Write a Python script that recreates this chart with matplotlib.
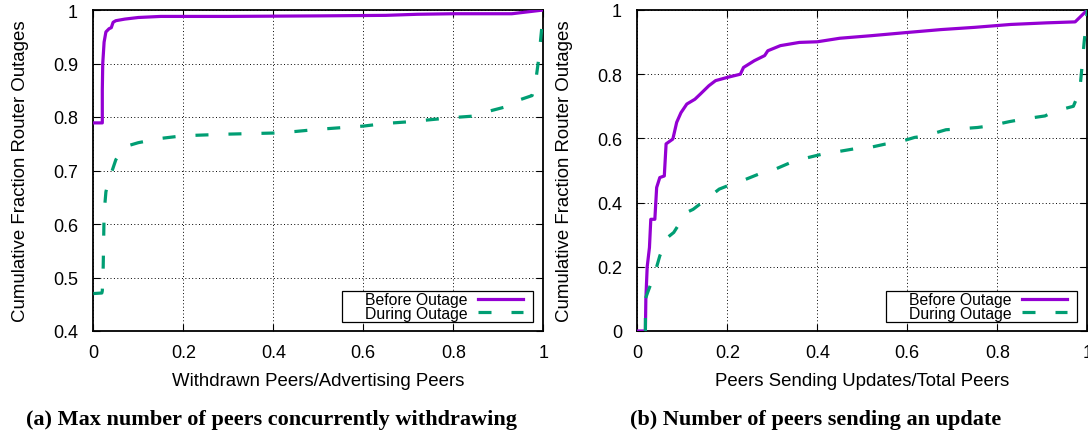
import matplotlib
matplotlib.use("Agg")
import matplotlib.pyplot as plt
from matplotlib.patches import Rectangle

# ---------------- data ----------------
# (a) Max number of peers concurrently withdrawing
a_before_x = [0, 0.02, 0.02, 0.021, 0.024, 0.028, 0.035, 0.04, 0.044, 0.05, 0.07, 0.1, 0.15,
              0.3, 0.5, 0.65, 0.72, 0.8, 0.93, 1.0]
a_before_y = [0.789, 0.789, 0.85, 0.90, 0.94, 0.959, 0.965, 0.967, 0.977, 0.98, 0.983, 0.986, 0.988,
              0.988, 0.989, 0.99, 0.992, 0.993, 0.993, 1.0]
a_during_x = [0, 0.019, 0.02, 0.022, 0.024, 0.028, 0.035, 0.042, 0.05, 0.065, 0.08, 0.1, 0.15, 0.2,
              0.3, 0.4, 0.45, 0.5, 0.55, 0.6, 0.65, 0.7, 0.75, 0.8, 0.85, 0.88, 0.93, 0.94, 0.975,
              0.982, 0.99, 0.997, 1.0]
a_during_y = [0.470, 0.471, 0.475, 0.52, 0.62, 0.66, 0.685, 0.70, 0.72, 0.74, 0.747, 0.752, 0.76, 0.765,
              0.768, 0.770, 0.773, 0.777, 0.780, 0.783, 0.788, 0.791, 0.795, 0.799, 0.802, 0.811, 0.822,
              0.83, 0.84, 0.86, 0.91, 0.97, 1.0]

# (b) Number of peers sending an update
b_before_x = [0, 0.018, 0.019, 0.022, 0.027, 0.03, 0.039, 0.043, 0.05, 0.06, 0.064, 0.079, 0.0875,
              0.097, 0.11, 0.128, 0.14, 0.159, 0.174, 0.2, 0.229, 0.236, 0.26, 0.283, 0.29, 0.318,
              0.36, 0.4, 0.45, 0.52, 0.6, 0.675, 0.75, 0.83, 0.91, 0.973, 1.0]
b_before_y = [0, 0, 0.1, 0.2, 0.26, 0.348, 0.348, 0.447, 0.478, 0.483, 0.583, 0.598, 0.65,
              0.68, 0.707, 0.722, 0.738, 0.764, 0.78, 0.79, 0.80, 0.821, 0.842, 0.858, 0.873, 0.889,
              0.899, 0.901, 0.912, 0.92, 0.93, 0.939, 0.946, 0.955, 0.96, 0.963, 1.0]
b_during_x = [0.018, 0.018, 0.023, 0.031, 0.043, 0.05, 0.066, 0.081, 0.109, 0.124, 0.163, 0.182,
              0.209, 0.233, 0.279, 0.298, 0.341, 0.364, 0.411, 0.434, 0.48, 0.508, 0.55, 0.578,
              0.616, 0.64, 0.686, 0.709, 0.756, 0.783, 0.826, 0.857, 0.906, 0.928, 0.969, 0.975,
              0.984, 0.988, 0.993, 0.997, 1.0]
b_during_y = [0, 0.1, 0.12, 0.15, 0.2, 0.234, 0.29, 0.307, 0.369, 0.379, 0.421, 0.442,
              0.457, 0.468, 0.494, 0.499, 0.525, 0.535, 0.551, 0.556, 0.567, 0.569, 0.582, 0.587,
              0.603, 0.608, 0.627, 0.629, 0.634, 0.639, 0.652, 0.66, 0.67, 0.685, 0.70, 0.72,
              0.76, 0.82, 0.90, 0.95, 1.0]

a_xticks = [0, 0.2, 0.4, 0.6, 0.8, 1]
a_xticklabels = ["0", "0.2", "0.4", "0.6", "0.8", "1"]
a_yticks = [0.4, 0.5, 0.6, 0.7, 0.8, 0.9, 1.0]
a_yticklabels = ["0.4", "0.5", "0.6", "0.7", "0.8", "0.9", "1"]
b_xticks = [0, 0.2, 0.4, 0.6, 0.8, 1]
b_xticklabels = ["0", "0.2", "0.4", "0.6", "0.8", "1"]
b_yticks = [0, 0.2, 0.4, 0.6, 0.8, 1.0]
b_yticklabels = ["0", "0.2", "0.4", "0.6", "0.8", "1"]

series_labels = ["Before Outage", "During Outage"]
ylabel = "Cumulative Fraction Router Outages"
a_xlabel = "Withdrawn Peers/Advertising Peers"
b_xlabel = "Peers Sending Updates/Total Peers"
a_caption = "(a) Max number of peers concurrently withdrawing"
b_caption = "(b) Number of peers sending an update"

# ---------------- style ----------------
PURPLE = "#9400d3"
GREEN = "#009e73"
LW = 2.3
SANS = ["Liberation Sans", "DejaVu Sans"]
plt.rcParams["font.family"] = SANS

W, H = 1088, 435
fig = plt.figure(figsize=(W / 100, H / 100), dpi=100)

def px_axes(l, r, t, b):
    return fig.add_axes([l / W, 1 - b / H, (r - l) / W, (b - t) / H])

ax_a = px_axes(93.3, 543.3, 11, 332)
ax_b = px_axes(637.3, 1087.3, 11, 332)

def style(ax, xticks, xtl, yticks, ytl, ylim, xlabel):
    ax.set_xlim(0, 1)
    ax.set_ylim(*ylim)
    ax.set_xticks(xticks)
    ax.set_xticklabels(xtl)
    ax.set_yticks(yticks)
    ax.set_yticklabels(ytl)
    ax.tick_params(direction="in", length=5, width=0.8, labelsize=13,
                   top=True, right=True, colors="black")
    ax.tick_params(axis="x", pad=9)
    ax.tick_params(axis="y", pad=11)
    ax.grid(True, color="black", linestyle=(0, (1, 2.5)), linewidth=0.7)
    for s in ax.spines.values():
        s.set_linewidth(1.3)
        s.set_color("black")
    ax.set_xlabel(xlabel, fontsize=13.4, labelpad=8)
    ax.set_ylabel(ylabel, fontsize=13.4, labelpad=17)

def draw(ax, bx, by, dx, dy, ylim):
    l1, = ax.plot(bx, by, color=PURPLE, lw=LW, label=series_labels[0], zorder=3)
    l2, = ax.plot(dx, dy, color=GREEN, lw=LW, label=series_labels[1], zorder=3)
    l2.set_dashes([4.07, 6.26])
    # gnuplot-style key box
    x0 = (342 - 93.3) / 450
    x1 = (533 - 93.3) / 450
    y0 = (332 - 323) / 321
    y1 = (332 - 292) / 321
    ax.add_patch(Rectangle((x0, y0), x1 - x0, y1 - y0, transform=ax.transAxes,
                           facecolor="white", edgecolor="black", lw=0.9, zorder=4))
    leg = ax.legend(loc="center right", bbox_to_anchor=(0.955, (332 - 307.5) / 321),
                    markerfirst=False, frameon=False, fontsize=11.3,
                    handlelength=2.9, borderpad=0, labelspacing=-0.1, handletextpad=0.65,
                    borderaxespad=0)
    leg.set_zorder(5)

draw(ax_a, a_before_x, a_before_y, a_during_x, a_during_y, (0.4, 1.0))
draw(ax_b, b_before_x, b_before_y, b_during_x, b_during_y, (0, 1.0))
style(ax_a, a_xticks, a_xticklabels, a_yticks, a_yticklabels, (0.4, 1.0), a_xlabel)
style(ax_b, b_xticks, b_xticklabels, b_yticks, b_yticklabels, (0, 1.0), b_xlabel)

SERIF = ["Liberation Serif", "DejaVu Serif"]
fig.text(271 / W, 1 - 420 / H, a_caption, ha="center", va="center",
         fontsize=16, fontweight="bold", family=SERIF)
fig.text(816 / W, 1 - 420 / H, b_caption, ha="center", va="center",
         fontsize=16, fontweight="bold", family=SERIF)

fig.savefig("out.png", dpi=100)
